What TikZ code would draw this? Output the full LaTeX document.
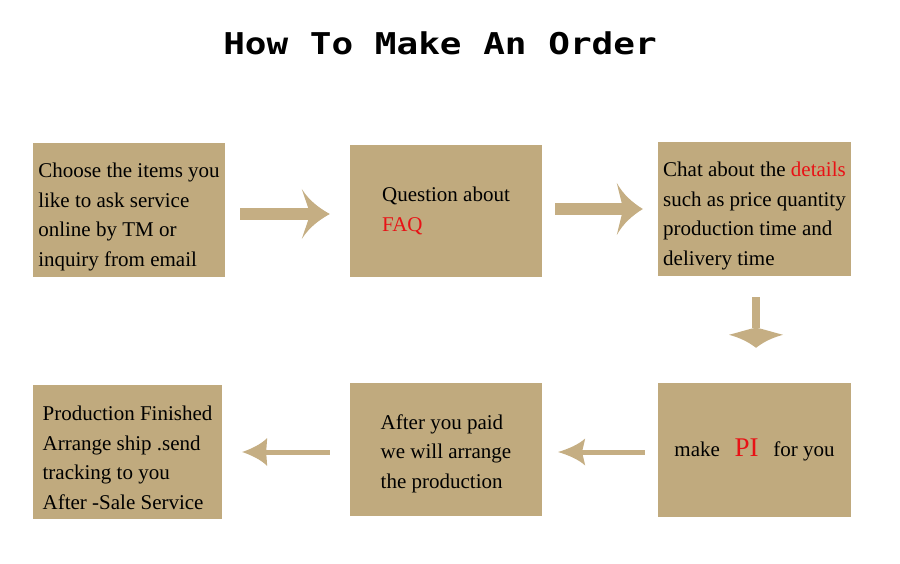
\documentclass[tikz,border=0pt]{standalone}
\usepackage{fontspec}
\setmainfont{Liberation Serif}
\newfontfamily\titlefont[FakeStretch=1.2]{DejaVu Sans Mono}
\usetikzlibrary{decorations.markings, calc}
\definecolor{boxtan}{RGB}{192,170,126}
\definecolor{arrowtan}{RGB}{197,174,131}
\definecolor{hotred}{RGB}{232,18,22}
\newcommand{\firstline}[1]{\rule{0pt}{#1}}
\tikzset{orderbox/.style={
    fill=boxtan, minimum width=192pt, minimum height=134pt,
    inner sep=0pt, align=left, font=\fontsize{21}{29.5}\selectfont
  },
  % lw, tip-to-barb, half width, tip-to-notch
  tanarrow/.style n args={4}{
    draw=arrowtan, line width=#1,
    decoration={
      markings,
      mark=at position 1 with {\fill[arrowtan] (#4,0)
        .. controls ({#4-0.4*#2},{0.25*#3}) and ({#4-0.75*#2},{0.55*#3}) .. ({#4-#2},#3)
        .. controls ({0.5*(#4-#2)},{0.5*#3}) and ({0.1*(#4-#2)},{0.2*#3}) .. (0,0)
        .. controls ({0.1*(#4-#2)},{-0.2*#3}) and ({0.5*(#4-#2)},{-0.5*#3}) .. ({#4-#2},-#3)
        .. controls ({#4-0.75*#2},{-0.55*#3}) and ({#4-0.4*#2},{-0.25*#3}) .. cycle;},
    },
    postaction={decorate}
  }
}

\begin{document}
\begin{tikzpicture}[x=1pt, y=-1pt]
      \useasboundingbox (0,0) rectangle (900,564);
      \node[font=\titlefont\bfseries\fontsize{30}{36}\selectfont] (title) at (440,43) {How To Make An Order};
      \node[orderbox] (choose) at (129,210) {\firstline{29pt}Choose the items you\\like to ask service\\online by TM or\\inquiry from email};
      \node[orderbox, minimum height=132pt] (faq) at (446,211) {Question about\\\textcolor{hotred}{FAQ}};
      \node[orderbox, minimum width=193pt] (chat) at (754.5,209) {\firstline{29pt}Chat about the \textcolor{hotred}{details}\\such as price quantity\\production time and\\delivery time};
      \node[orderbox, minimum width=193pt] (pi) at (754.5,450) {make\hspace{0.7em}\textcolor{hotred}{\fontsize{27}{30}\selectfont PI}\hspace{0.7em}for you};
      \node[orderbox, minimum height=133pt] (paid) at (446,449.5) {\firstline{23pt}After you paid\\we will arrange\\the production};
      \node[orderbox, minimum width=189pt] (ship) at (127.5,452) {\firstline{26pt}Production Finished\\Arrange ship .send\\tracking to you\\After -Sale Service};
      \draw[tanarrow={12pt}{28}{25}{20}] ($(choose.east)+(15,4)$) -- ($(faq.west)+(-40,3)$);
      \draw[tanarrow={12pt}{26}{26}{20}] ($(faq.east)+(13,-2)$) -- ($(chat.west)+(-35,0)$);
      \draw[tanarrow={8.5pt}{13}{27}{20}] ($(chat.south)+(1.5,21)$) -- ($(pi.north)+(1.5,-55)$);
      \draw[tanarrow={5pt}{27}{13.5}{24}] ($(pi.west)+(-13,2)$) -- ($(paid.east)+(40,2.5)$);
      \draw[tanarrow={5pt}{25}{14}{24}] ($(paid.west)+(-20,2.5)$) -- ($(ship.east)+(44,0)$);
    \end{tikzpicture}
\end{document}
